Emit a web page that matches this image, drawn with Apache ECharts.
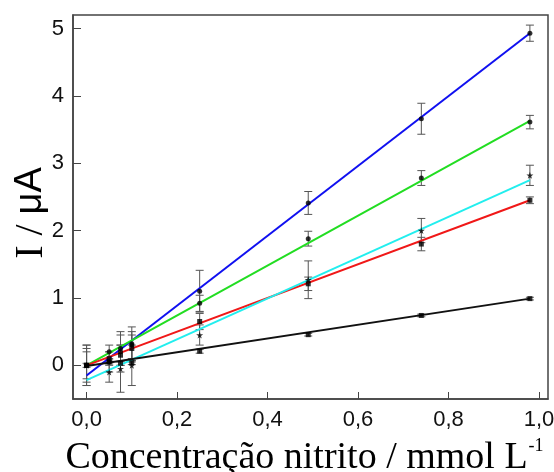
<!DOCTYPE html>
<html>
<head>
<meta charset="utf-8">
<script src="https://cdn.jsdelivr.net/npm/echarts@6/dist/echarts.min.js"></script>
<style>
  html, body { margin: 0; padding: 0; background: #fff; }
  #main { width: 554px; height: 472px; }
</style>
</head>
<body>
<div id="main"></div>
<script>
// concentrações (mmol L-1)
var conc = [0, 0.05, 0.075, 0.1, 0.25, 0.49, 0.74, 0.98];

// correntes medidas (uA) e desvios
var blueI  = [0, 0.05, 0.2, 0.32, 1.1, 2.41, 3.66, 4.93];
var blueErr = [0.3, 0.15, 0.3, 0.25, 0.31, 0.17, 0.23, 0.12];
var greenI = [0, 0.2, 0.25, 0.3, 0.92, 1.88, 2.78, 3.61];
var greenErr = [0.25, 0.1, 0.2, 0.2, 0.12, 0.11, 0.11, 0.1];
var redI   = [0, 0.1, 0.15, 0.25, 0.65, 1.21, 1.8, 2.45];
var redErr = [0.2, 0.1, 0.15, 0.2, 0.12, 0.1, 0.1, 0.05];
var cyanI  = [0, -0.1, -0.05, 0, 0.45, 1.27, 2.0, 2.82];
var cyanErr = [0.3, 0.15, 0.35, 0.3, 0.15, 0.28, 0.18, 0.15];
var blackI = [0, 0.05, 0.03, 0.04, 0.21, 0.455, 0.74, 0.99];
var blackErr = [0.03, 0.03, 0.03, 0.03, 0.03, 0.02, 0.02, 0.02];

// retas de ajuste: valor em x=0 e em x=0,98
var fitX = [0, 0.98];
var fitStart = [-0.15, 0.0, 0.0, -0.22, -0.01];
var fitEnd   = [4.93, 3.63, 2.45, 2.75, 0.99];

var xTicks = [0, 0.2, 0.4, 0.6, 0.8, 1.0];
var yTicks = [0, 1, 2, 3, 4, 5];

var colors = ['#1010f0', '#22dd22', '#f01818', '#22eeee', '#111111'];
var starPath = 'path://M50,0 L61,35 L98,35 L68,57 L79,91 L50,70 L21,91 L32,57 L2,35 L39,35 Z';
var symbols = ['circle', 'circle', 'rect', starPath, 'rect'];
var allI = [blueI, greenI, redI, cyanI, blackI];
var allErr = [blueErr, greenErr, redErr, cyanErr, blackErr];

function pairs(ys) {
  return conc.map(function (x, i) { return [x, ys[i]]; });
}

var errData = [];
allI.forEach(function (ys, s) {
  conc.forEach(function (x, i) {
    errData.push([x, ys[i], allErr[s][i]]);
  });
});

var series = [];
series.push({
  type: 'custom',
  z: 1,
  silent: true,
  data: errData,
  renderItem: function (params, api) {
    var x = api.value(0), y = api.value(1), e = api.value(2);
    var lo = api.coord([x, y - e]);
    var hi = api.coord([x, y + e]);
    var w = 4;
    var st = { stroke: '#555', lineWidth: 1 };
    return {
      type: 'group',
      children: [
        { type: 'line', shape: { x1: lo[0], y1: lo[1], x2: hi[0], y2: hi[1] }, style: st },
        { type: 'line', shape: { x1: lo[0] - w, y1: lo[1], x2: lo[0] + w, y2: lo[1] }, style: st },
        { type: 'line', shape: { x1: hi[0] - w, y1: hi[1], x2: hi[0] + w, y2: hi[1] }, style: st }
      ]
    };
  }
});
colors.forEach(function (c, s) {
  series.push({
    type: 'line',
    z: 2,
    silent: true,
    symbol: 'none',
    lineStyle: { color: c, width: 2 },
    data: [[fitX[0], fitStart[s]], [fitX[1], fitEnd[s]]]
  });
});
allI.forEach(function (ys, s) {
  series.push({
    type: 'scatter',
    z: 3,
    silent: true,
    symbol: symbols[s],
    symbolSize: s === 3 ? 7 : 5,
    itemStyle: { color: '#000' },
    data: pairs(ys)
  });
});

var myChart = echarts.init(document.getElementById('main'));
var option = {
  backgroundColor: '#fff',
  animation: false,
  grid: {
    left: 73, top: 15, right: 6, bottom: 73,
    outerBoundsMode: 'none',
    containLabel: false,
    show: true, borderColor: '#444', borderWidth: 1.5
  },
  // título do eixo y
  graphic: [{
    type: 'text',
    x: 31,
    y: 213,
    rotation: Math.PI / 2,
    style: {
      text: '{a|I / }{b|μA}',
      align: 'center',
      verticalAlign: 'middle',
      rich: {
        a: { fontFamily: 'Liberation Serif', fontSize: 40, fill: '#000' },
        b: { fontFamily: 'Liberation Sans', fontSize: 38, fill: '#000' }
      }
    }
  }],
  xAxis: {
    type: 'value',
    min: -0.03,
    max: 1.02,
    splitLine: { show: false },
    axisLine: { onZero: false, lineStyle: { color: '#444', width: 1.5 } },
    axisTick: { inside: true, length: 7, customValues: xTicks, lineStyle: { color: '#444' } },
    axisLabel: {
      customValues: xTicks,
      margin: 10,
      color: '#111',
      fontFamily: 'Liberation Sans',
      fontSize: 22,
      formatter: function (v) { return v.toFixed(1).replace('.', ','); }
    },
    name: '{a|Concentração nitrito / mmol L}{s|-1}',
    nameLocation: 'middle',
    nameGap: 38,
    nameTextStyle: {
      rich: {
        a: { fontFamily: 'Liberation Serif', fontSize: 38, color: '#000' },
        s: { fontFamily: 'Liberation Serif', fontSize: 18, color: '#000', verticalAlign: 'top', padding: [0, 12, 24, 1] }
      }
    }
  },
  yAxis: {
    type: 'value',
    min: -0.5,
    max: 5.2,
    splitLine: { show: false },
    axisLine: { onZero: false, lineStyle: { color: '#444', width: 1.5 } },
    axisTick: { inside: true, length: 8, customValues: yTicks, lineStyle: { color: '#444' } },
    axisLabel: {
      customValues: yTicks,
      margin: 9,
      color: '#111',
      fontFamily: 'Liberation Sans',
      fontSize: 22
    }
  },
  series: series
};
myChart.setOption(option);
</script>
</body>
</html>
